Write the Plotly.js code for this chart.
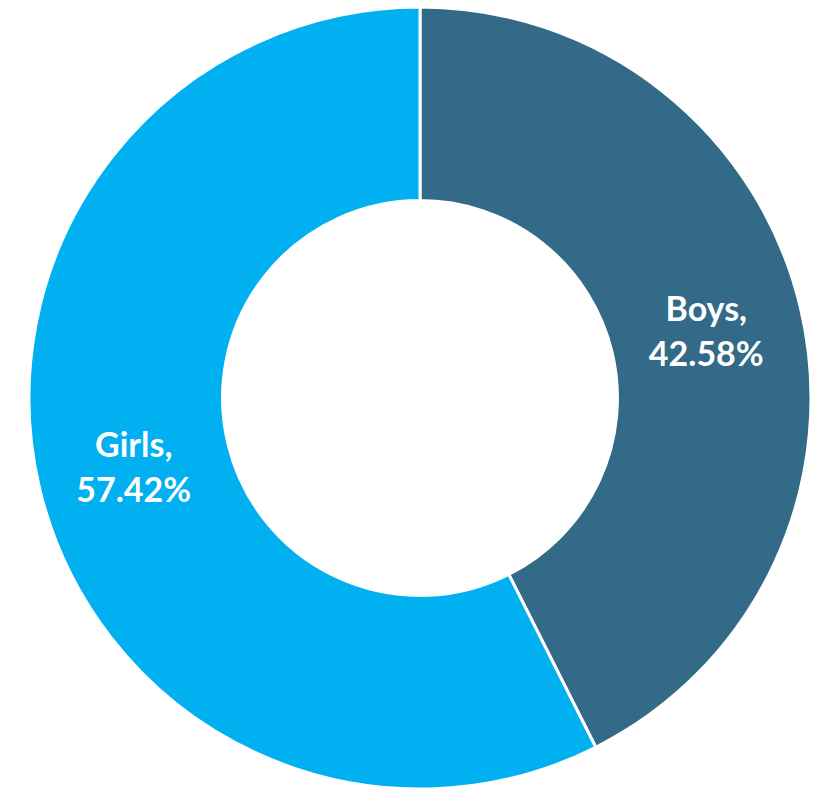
<!DOCTYPE html>
<html>
<head>
<meta charset="utf-8">
<script src="https://cdn.plot.ly/plotly-3.0.1.min.js"></script>
<style>html,body{margin:0;padding:0;background:#fff;}#chart{width:815px;height:790px;}</style>
</head>
<body>
<div id="chart"></div>
<script>
const categories = ["Boys", "Girls"];
const shares = [42.58, 57.42];
const sliceColors = ["#336A88", "#00B0F0"];

const trace = {
  type: "pie",
  labels: categories,
  values: shares,
  hole: 0.505,
  sort: false,
  direction: "clockwise",
  rotation: 0,
  marker: { colors: sliceColors, line: { color: "#ffffff", width: 3 } },
  texttemplate: "%{label},<br>%{percent:.2%}",
  textposition: "inside",
  insidetextorientation: "horizontal",
  textfont: { family: "Lato, 'Open Sans', sans-serif", size: 34, color: "#ffffff", weight: "bold" },
  hoverinfo: "none",
  domain: { x: [29/815, 811/815], y: [1/790, 783/790] }
};

const layout = {
  width: 815,
  height: 790,
  margin: { l: 0, r: 0, t: 0, b: 0 },
  showlegend: false,
  paper_bgcolor: "#ffffff"
};

Plotly.newPlot("chart", [trace], layout, { displayModeBar: false, staticPlot: true });
</script>
</body>
</html>
